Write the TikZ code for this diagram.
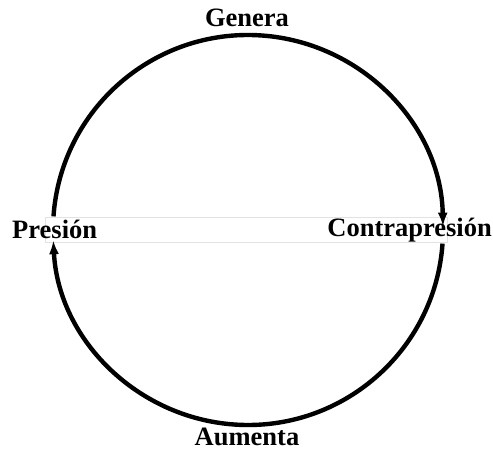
\documentclass[tikz,border=0pt]{standalone}
\usepackage{fontspec}
\setmainfont{Liberation Serif}
\usetikzlibrary{arrows.meta,positioning,calc}
\definecolor{ink}{HTML}{000000}
\definecolor{frame}{HTML}{E2E2E2}
\tikzset{lbl/.style={font=\fontsize{26.5}{31}\selectfont\bfseries,inner sep=0pt},
         cyc/.style={-{Latex[length=14pt,width=10pt]},line width=4.4pt,draw=ink}}

\begin{document}
\begin{tikzpicture}[x=1pt,y=1pt]
\useasboundingbox (0,0) rectangle (493,451);
\draw[frame,line width=0.8pt] (45,209) rectangle (447,234);
\coordinate (c) at (248,221);
\node[lbl] (ge) at (247,433) {Genera};
\node[lbl] (au) at (247,14) {Aumenta};
\node[lbl,anchor=west] (pr) at (12,222) {Presión};
\node[lbl,anchor=east] (cp) at (492,221) {Contrapresión};
\coordinate (tl) at ($(c)+(176:195)$);
\coordinate (br) at ($(c)+(-4:195)$);
\draw[cyc] (tl) arc[start angle=176,end angle=1,radius=195];
\draw[cyc] (br) arc[start angle=-4,end angle=-177,radius=195];
\end{tikzpicture}
\end{document}
